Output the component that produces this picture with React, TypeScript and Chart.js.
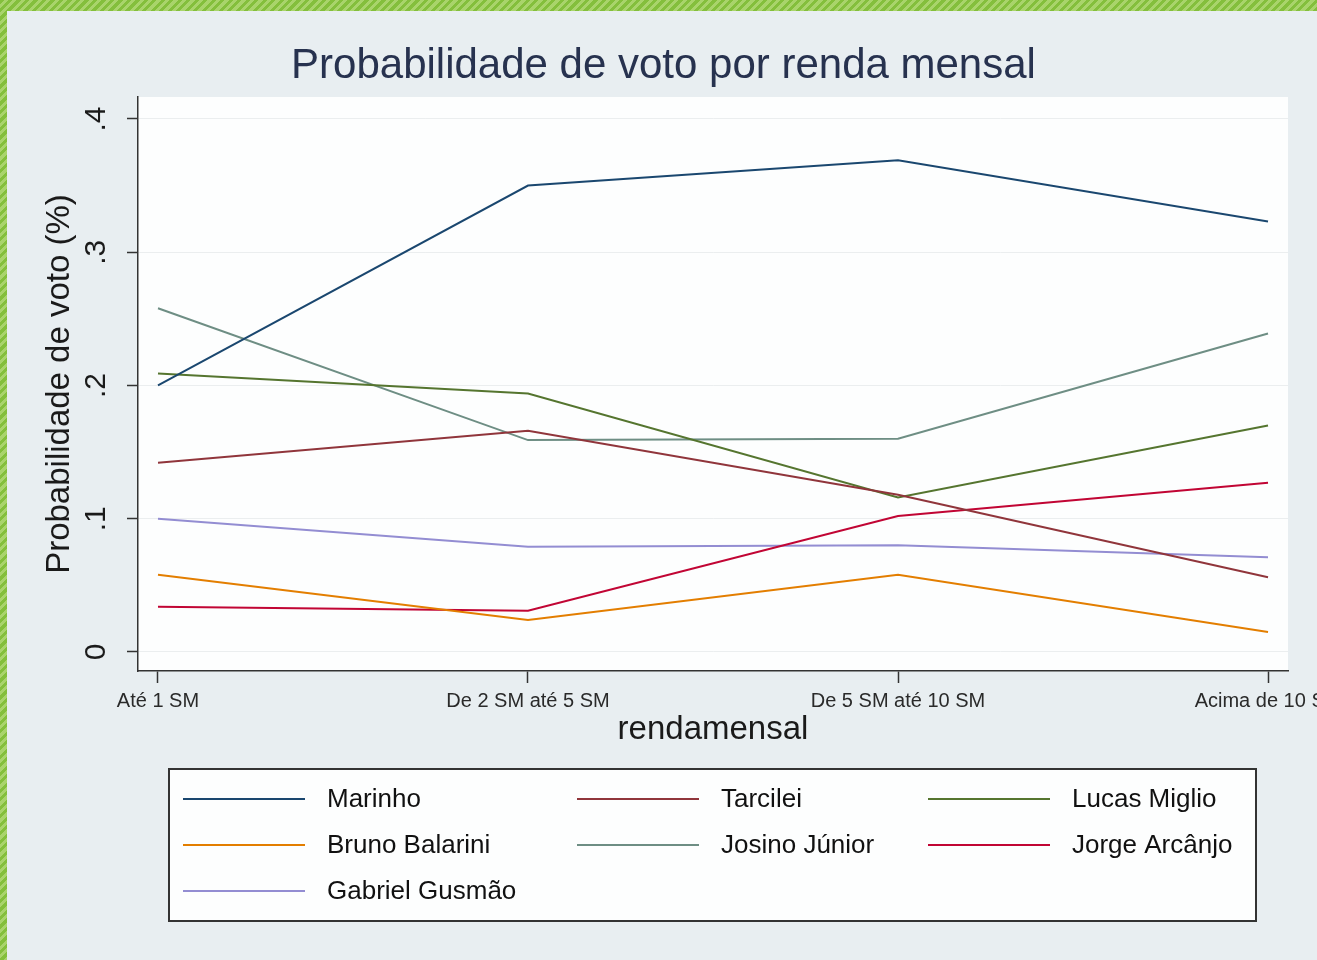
import React, { useEffect, useRef } from "react";
import { Chart, registerables } from "chart.js";

Chart.register(...registerables);

// ---- data ----
const categories = ["Até 1 SM", "De 2 SM até 5 SM", "De 5 SM até 10 SM", "Acima de 10 SM"];
const yTickValues = [0, 0.1, 0.2, 0.3, 0.4];
const yTickLabels = ["0", ".1", ".2", ".3", ".4"];

const marinho = [0.2, 0.35, 0.369, 0.323];
const tarcilei = [0.142, 0.166, 0.118, 0.056];
const lucasMiglio = [0.209, 0.194, 0.116, 0.17];
const brunoBalarini = [0.058, 0.024, 0.058, 0.015];
const josinoJunior = [0.258, 0.159, 0.16, 0.239];
const jorgeArcanjo = [0.034, 0.031, 0.102, 0.127];
const gabrielGusmao = [0.1, 0.079, 0.08, 0.071];

const seriesNames = [
  "Marinho",
  "Tarcilei",
  "Lucas Miglio",
  "Bruno Balarini",
  "Josino Júnior",
  "Jorge Arcânjo",
  "Gabriel Gusmão",
];
const seriesValues = [marinho, tarcilei, lucasMiglio, brunoBalarini, josinoJunior, jorgeArcanjo, gabrielGusmao];
const seriesColors = ["#1a476f", "#90353b", "#55752f", "#e37e00", "#6e8e84", "#c10534", "#938dd2"];

const FONT = "'Liberation Sans', Arial, sans-serif";

const plotBg = {
  id: "plotBg",
  beforeDraw(chart: any) {
    const { ctx, chartArea } = chart;
    ctx.save();
    ctx.fillStyle = "#fdfefe";
    ctx.fillRect(chartArea.left, chartArea.top, chartArea.right - chartArea.left, chartArea.bottom - chartArea.top);
    ctx.restore();
  },
};

const gridLegend = {
  id: "gridLegend",
  afterDraw(chart: any) {
    const { ctx } = chart;
    const boxL = 169, boxT = 769, boxR = 1256, boxB = 921;
    ctx.save();
    ctx.fillStyle = "#fdfefe";
    ctx.fillRect(boxL, boxT, boxR - boxL, boxB - boxT);
    ctx.strokeStyle = "#333333";
    ctx.lineWidth = 2;
    ctx.strokeRect(boxL, boxT, boxR - boxL, boxB - boxT);
    const colLine = [183, 577, 928];
    const rowY = [799, 845, 891];
    ctx.font = `26px ${FONT}`;
    ctx.textBaseline = "middle";
    ctx.textAlign = "left";
    chart.data.datasets.forEach((ds: any, i: number) => {
      const c = i % 3;
      const r = Math.floor(i / 3);
      const x = colLine[c];
      const y = rowY[r];
      ctx.strokeStyle = ds.borderColor;
      ctx.lineWidth = 2;
      ctx.beginPath();
      ctx.moveTo(x, y);
      ctx.lineTo(x + 122, y);
      ctx.stroke();
      ctx.fillStyle = "#111111";
      ctx.fillText(ds.label, x + 144, y + 1);
    });
    ctx.restore();
  },
};

export default function App() {
  const ref = useRef<HTMLCanvasElement | null>(null);

  useEffect(() => {
    if (!ref.current) return;
    const chart = new Chart(ref.current, {
      type: "line",
      data: {
        datasets: seriesNames.map((name, i) => ({
          label: name,
          data: seriesValues[i].map((v, j) => ({ x: j, y: v })),
          borderColor: seriesColors[i],
          backgroundColor: seriesColors[i],
          borderWidth: 2,
          pointRadius: 0,
          tension: 0,
          fill: false,
        })),
      },
      options: {
        responsive: false,
        animation: false,
        layout: { padding: { left: 0, right: 0, top: 0, bottom: 209 } },
        plugins: {
          legend: { display: false },
          tooltip: { enabled: false },
          title: {
            display: true,
            text: "Probabilidade de voto por renda mensal",
            color: "#27324f",
            font: { family: FONT, size: 42, weight: "normal" },
            padding: { top: 41.5, bottom: 5.1 },
          },
        },
        scales: {
          x: {
            type: "linear",
            min: -0.054,
            max: 3.054,
            afterBuildTicks: (scale: any) => {
              scale.ticks = categories.map((_, i) => ({ value: i }));
            },
            afterFit: (scale: any) => {
              scale.height = 80;
              scale.paddingLeft = 0;
              scale.paddingRight = 39;
            },
            ticks: {
              autoSkip: false,
              maxRotation: 0,
              minRotation: 0,
              padding: 6,
              color: "#2a2a2a",
              font: { family: FONT, size: 20 },
              callback: (v: any) => categories[Math.round(Number(v))] ?? "",
            },
            grid: {
              drawOnChartArea: false,
              drawTicks: true,
              tickLength: 12,
              tickColor: "#333333",
              tickWidth: 1.5,
            },
            border: { display: true, color: "#333333", width: 1.5 },
            title: {
              display: true,
              text: "rendamensal",
              color: "#1a1a1a",
              font: { family: FONT, size: 33 },
              padding: { top: 0, bottom: 1 },
            },
          },
          y: {
            type: "linear",
            min: -0.0143,
            max: 0.4165,
            afterBuildTicks: (scale: any) => {
              scale.ticks = yTickValues.map((v) => ({ value: v }));
            },
            afterFit: (scale: any) => {
              scale.width = 138;
              scale.paddingTop = 0;
              scale.paddingBottom = 0;
            },
            ticks: {
              autoSkip: false,
              minRotation: 90,
              maxRotation: 90,
              crossAlign: "center",
              padding: 18,
              color: "#1a1a1a",
              font: { family: FONT, size: 30 },
              callback: (v: any) => {
                const idx = yTickValues.findIndex((t) => Math.abs(t - Number(v)) < 1e-9);
                return idx >= 0 ? yTickLabels[idx] : "";
              },
            },
            grid: {
              drawOnChartArea: true,
              color: "#ebeeef",
              lineWidth: 1,
              drawTicks: true,
              tickLength: 11,
              tickColor: "#333333",
              tickWidth: 1.5,
            },
            border: { display: true, color: "#333333", width: 1.5 },
            title: {
              display: true,
              text: "Probabilidade de voto (%)",
              color: "#1a1a1a",
              font: { family: FONT, size: 33 },
              padding: { top: 40, bottom: 0 },
            },
          },
        },
      },
      plugins: [plotBg, gridLegend],
    } as any);
    return () => chart.destroy();
  }, []);

  return (
    <div
      style={{
        position: "fixed",
        left: 0,
        top: 0,
        width: 1317,
        height: 960,
        overflow: "hidden",
        background: "repeating-linear-gradient(135deg, #84bf3c 0px, #84bf3c 3px, #a9d46b 3px, #a9d46b 6px)",
      }}
    >
      <div
        style={{
          position: "absolute",
          left: 7,
          top: 11,
          right: 0,
          bottom: 0,
          background: "#e8eef1",
        }}
      />
      <canvas
        ref={ref}
        width={1327}
        height={960}
        style={{ position: "absolute", left: 0, top: 0, width: 1327, height: 960 }}
      />
    </div>
  );
}
